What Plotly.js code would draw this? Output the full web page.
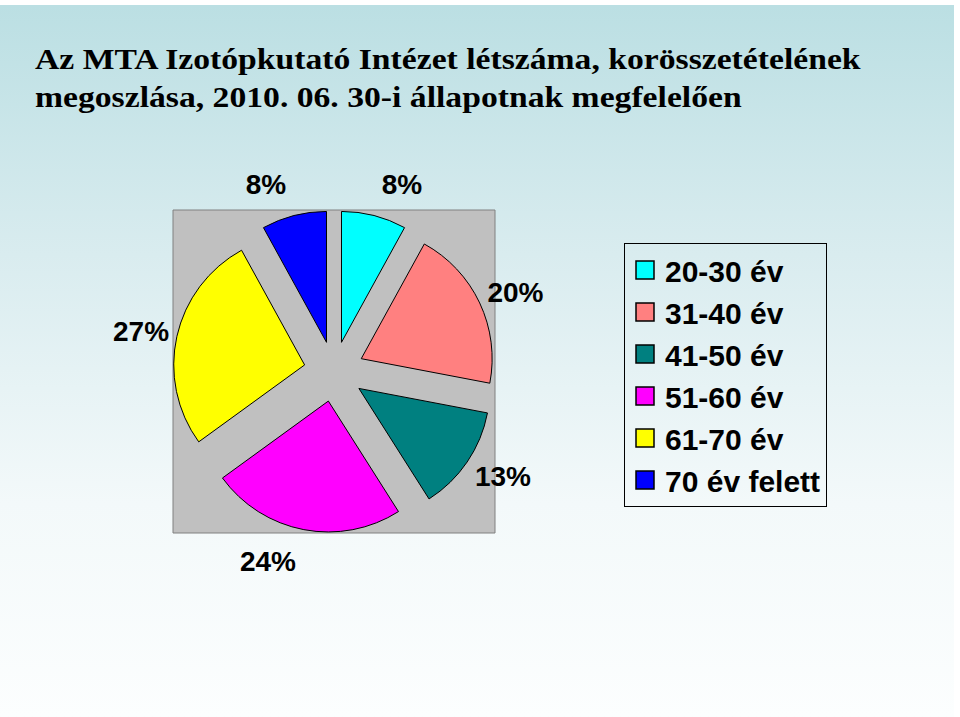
<!DOCTYPE html>
<html>
<head>
<meta charset="utf-8">
<script src="https://cdn.plot.ly/plotly-3.0.1.min.js"></script>
<style>
  html, body { margin: 0; padding: 0; background: #ffffff; }
  #bg { position: absolute; left: 0; top: 5px; width: 954px; height: 712px;
        background: linear-gradient(to bottom, #bbdfe3 0%, #d9ecef 35%, #f3f9fa 70%, #fcfefe 100%); }
  #chart { position: absolute; left: 0; top: 0; width: 960px; height: 717px; }
</style>
</head>
<body>
<div id="bg"></div>
<div id="chart"></div>
<script>
// Data
const categories = ["20-30 év", "31-40 év", "41-50 év", "51-60 év", "61-70 év", "70 év felett"];
const values = [8, 20, 13, 24, 27, 8];
const sliceColors = ["#00FFFF", "#FF8080", "#008080", "#FF00FF", "#FFFF00", "#0000FF"];
const chartTitle = "Az MTA Izotópkutató Intézet létszáma, korösszetételének<br>megoszlása, 2010. 06. 30-i állapotnak megfelelően";

const W = 960, H = 717;
const box = { x0: 173, x1: 495, y0: 210, y1: 533 };
const titleLeft = 35, titleWidth = 827;
const labelExtra = 17; // extra label distance (vertical component only)

const trace = {
  type: "pie",
  labels: categories,
  values: values,
  sort: false,
  direction: "clockwise",
  rotation: 0,
  pull: values.map(() => 0.23),
  marker: { colors: sliceColors, line: { color: "#000000", width: 1 } },
  textinfo: "percent",
  textposition: "outside",
  outsidetextfont: { family: "Liberation Sans, Arial, sans-serif", size: 28, color: "#000000", weight: "bold" },
  hoverinfo: "label+percent",
  domain: { x: [box.x0 / W, box.x1 / W], y: [1 - box.y1 / H, 1 - box.y0 / H] }
};

const layout = {
  width: W, height: H,
  margin: { l: 0, r: 0, t: 0, b: 0 },
  paper_bgcolor: "rgba(0,0,0,0)",
  plot_bgcolor: "rgba(0,0,0,0)",
  title: {
    text: chartTitle,
    x: titleLeft / W, xanchor: "left", xref: "paper",
    y: 1 - 69 / H, yanchor: "top", yref: "container",
    font: { family: "Liberation Serif, Times New Roman, serif", size: 29, color: "#000000", weight: "bold" }
  },
  showlegend: true,
  legend: {
    x: 624 / W, xanchor: "left",
    y: 1 - 243 / H, yanchor: "top",
    bgcolor: "rgba(0,0,0,0)",
    bordercolor: "#000000", borderwidth: 1,
    font: { family: "Liberation Sans, Arial, sans-serif", size: 30, color: "#000000", weight: "bold" },
    traceorder: "normal"
  },
  shapes: [{
    type: "rect", xref: "paper", yref: "paper", layer: "below",
    x0: box.x0 / W, x1: box.x1 / W, y0: 1 - box.y1 / H, y1: 1 - box.y0 / H,
    fillcolor: "#c0c0c0", line: { color: "#808080", width: 1 }
  }]
};

const gd = document.getElementById("chart");
Plotly.newPlot(gd, [trace], layout, { displayModeBar: false, staticPlot: true }).then(() => {
  // enlarge legend swatches
  gd.querySelectorAll(".legendpoints path").forEach(p => {
    const t = p.getAttribute("transform") || "";
    p.setAttribute("transform", t + " scale(1.5)");
  });
  // widen title text horizontally to match the original's wide lettering
  const tt = gd.querySelector(".gtitle");
  if (tt) {
    const bb = tt.getBBox();
    const s = titleWidth / bb.width;
    const t = tt.getAttribute("transform") || "";
    tt.setAttribute("transform", `translate(${titleLeft},0) scale(${s},1) translate(${-bb.x},0) ` + t);
  }
  // push outside labels a little further out vertically (Excel-like label distance)
  const total = values.reduce((a, b) => a + b, 0);
  let cum = 0;
  gd.querySelectorAll(".slice").forEach((sl, i) => {
    const mid = (cum + values[i] / 2) / total * 2 * Math.PI;
    cum += values[i];
    const dy = -Math.cos(mid) * labelExtra;
    const txt = sl.querySelector("text.slicetext");
    if (txt) {
      const t = txt.getAttribute("transform") || "";
      txt.setAttribute("transform", `translate(0,${dy}) ` + t);
    }
  });
});
</script>
</body>
</html>
